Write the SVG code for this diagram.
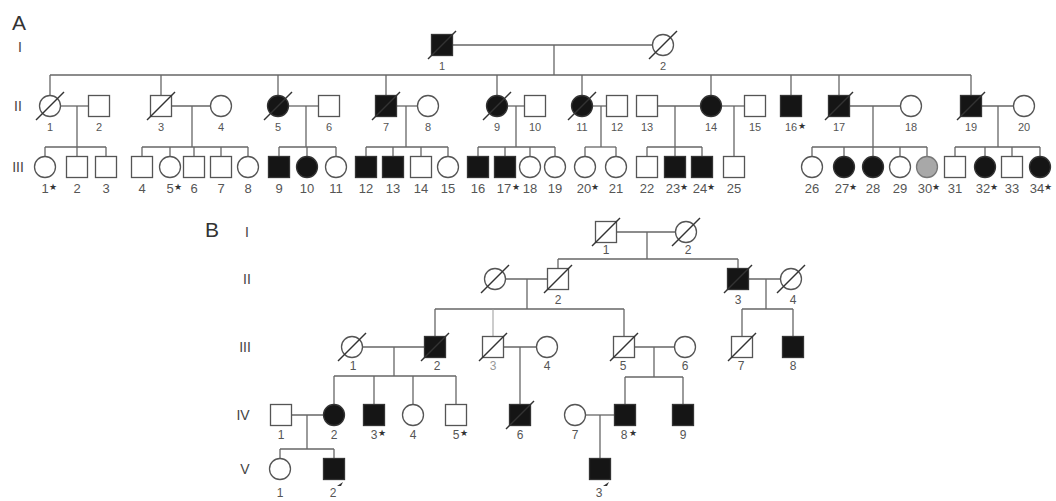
<svg xmlns="http://www.w3.org/2000/svg" width="1056" height="501" viewBox="0 0 1056 501">
<style>
.o{fill:#fff;stroke:#555;stroke-width:1.3}
.f{fill:#151515;stroke:#333;stroke-width:1.3}
.g{fill:#a8a8a8;stroke:#777;stroke-width:1.3}
.d{stroke:#333;stroke-width:1.4}
.ln line{stroke:#666;stroke-width:1.3}
text{font-family:"Liberation Sans",Arial,sans-serif;fill:#555}
.l2{font-size:11px;text-anchor:middle}
.l3{font-size:13px;text-anchor:middle}
.lb{font-size:12px;text-anchor:middle}
.st{font-size:9px;fill:#333}
.gen{font-size:14px;fill:#444;text-anchor:middle}
.pan{font-size:21px;fill:#333}
</style>
<rect width="1056" height="501" fill="#fff"/>
<text class="pan" x="12" y="30">A</text>
<text class="gen" x="20" y="52">I</text>
<text class="gen" x="18" y="111">II</text>
<text class="gen" x="18" y="172">III</text>
<text class="pan" x="205" y="237">B</text>
<text class="gen" x="247" y="237">I</text>
<text class="gen" x="247" y="284">II</text>
<text class="gen" x="245" y="352">III</text>
<text class="gen" x="243" y="420">IV</text>
<text class="gen" x="245" y="474">V</text>

<g id="connectors" class="ln">
<!-- A gen I -->
<line x1="452" y1="45" x2="652.5" y2="45"/>
<line x1="554" y1="45" x2="554" y2="75"/>
<line x1="50" y1="75" x2="971" y2="75"/>
<line x1="50" y1="75" x2="50" y2="95.5"/>
<line x1="161" y1="75" x2="161" y2="95.5"/>
<line x1="278" y1="75" x2="278" y2="95.5"/>
<line x1="386" y1="75" x2="386" y2="95.5"/>
<line x1="497" y1="75" x2="497" y2="95.5"/>
<line x1="582" y1="75" x2="582" y2="95.5"/>
<line x1="711" y1="75" x2="711" y2="95.5"/>
<line x1="791" y1="75" x2="791" y2="95.5"/>
<line x1="839" y1="75" x2="839" y2="95.5"/>
<line x1="971" y1="75" x2="971" y2="95.5"/>
<!-- A gen II couples -->
<line x1="60.5" y1="106" x2="88.5" y2="106"/>
<line x1="171.5" y1="106" x2="210.5" y2="106"/>
<line x1="288.5" y1="106" x2="318.5" y2="106"/>
<line x1="396.5" y1="106" x2="417.5" y2="106"/>
<line x1="507.5" y1="106" x2="524.5" y2="106"/>
<line x1="592.5" y1="106" x2="606.5" y2="106"/>
<line x1="657.5" y1="106" x2="700.5" y2="106"/>
<line x1="721.5" y1="106" x2="744.5" y2="106"/>
<line x1="849.5" y1="106" x2="900.5" y2="106"/>
<line x1="981.5" y1="106" x2="1013.5" y2="106"/>
<!-- A descents -->
<line x1="77" y1="106" x2="77" y2="156.5"/>
<line x1="192" y1="106" x2="192" y2="147"/>
<line x1="306" y1="106" x2="306" y2="147"/>
<line x1="406" y1="106" x2="406" y2="147"/>
<line x1="516" y1="106" x2="516" y2="147"/>
<line x1="601" y1="106" x2="601" y2="147"/>
<line x1="675" y1="106" x2="675" y2="156.5"/>
<line x1="734" y1="106" x2="734" y2="156.5"/>
<line x1="873" y1="106" x2="873" y2="156.5"/>
<line x1="998" y1="106" x2="998" y2="147"/>
<!-- A sibships gen III -->
<line x1="45" y1="147" x2="106" y2="147"/>
<line x1="142" y1="147" x2="248" y2="147"/>
<line x1="279" y1="147" x2="336" y2="147"/>
<line x1="366" y1="147" x2="448" y2="147"/>
<line x1="478" y1="147" x2="555" y2="147"/>
<line x1="585" y1="147" x2="616" y2="147"/>
<line x1="647" y1="147" x2="702" y2="147"/>
<line x1="812" y1="147" x2="927" y2="147"/>
<line x1="955" y1="147" x2="1040" y2="147"/>
<!-- A child verticals -->
<line x1="45" y1="147" x2="45" y2="156.5"/>
<line x1="106" y1="147" x2="106" y2="156.5"/>
<line x1="142" y1="147" x2="142" y2="156.5"/>
<line x1="170" y1="147" x2="170" y2="156.5"/>
<line x1="194" y1="147" x2="194" y2="156.5"/>
<line x1="221" y1="147" x2="221" y2="156.5"/>
<line x1="248" y1="147" x2="248" y2="156.5"/>
<line x1="279" y1="147" x2="279" y2="156.5"/>
<line x1="307" y1="147" x2="307" y2="156.5"/>
<line x1="336" y1="147" x2="336" y2="156.5"/>
<line x1="366" y1="147" x2="366" y2="156.5"/>
<line x1="393" y1="147" x2="393" y2="156.5"/>
<line x1="421" y1="147" x2="421" y2="156.5"/>
<line x1="448" y1="147" x2="448" y2="156.5"/>
<line x1="478" y1="147" x2="478" y2="156.5"/>
<line x1="505" y1="147" x2="505" y2="156.5"/>
<line x1="530" y1="147" x2="530" y2="156.5"/>
<line x1="555" y1="147" x2="555" y2="156.5"/>
<line x1="585" y1="147" x2="585" y2="156.5"/>
<line x1="616" y1="147" x2="616" y2="156.5"/>
<line x1="647" y1="147" x2="647" y2="156.5"/>
<line x1="702" y1="147" x2="702" y2="156.5"/>
<line x1="812" y1="147" x2="812" y2="156.5"/>
<line x1="844" y1="147" x2="844" y2="156.5"/>
<line x1="900" y1="147" x2="900" y2="156.5"/>
<line x1="927" y1="147" x2="927" y2="156.5"/>
<line x1="955" y1="147" x2="955" y2="156.5"/>
<line x1="985" y1="147" x2="985" y2="156.5"/>
<line x1="1012" y1="147" x2="1012" y2="156.5"/>
<line x1="1040" y1="147" x2="1040" y2="156.5"/>
<!-- B gen I -->
<line x1="616.5" y1="232" x2="675.5" y2="232"/>
<line x1="647" y1="232" x2="647" y2="259"/>
<line x1="558" y1="259" x2="738" y2="259"/>
<line x1="558" y1="259" x2="558" y2="268.5"/>
<line x1="738" y1="259" x2="738" y2="268.5"/>
<!-- B gen II -->
<line x1="505.5" y1="279" x2="547.5" y2="279"/>
<line x1="527" y1="279" x2="527" y2="309"/>
<line x1="748.5" y1="279" x2="780.5" y2="279"/>
<line x1="766" y1="279" x2="766" y2="309"/>
<line x1="435" y1="309" x2="624" y2="309"/>
<line x1="435" y1="309" x2="435" y2="336.5"/>
<line x1="493" y1="309" x2="493" y2="336.5" style="stroke:#999;stroke-width:1"/>
<line x1="624" y1="309" x2="624" y2="336.5"/>
<line x1="742" y1="309" x2="793" y2="309"/>
<line x1="742" y1="309" x2="742" y2="336.5"/>
<line x1="793" y1="309" x2="793" y2="336.5"/>
<!-- B gen III -->
<line x1="362.5" y1="347" x2="424.5" y2="347"/>
<line x1="394" y1="347" x2="394" y2="376"/>
<line x1="503.5" y1="347" x2="536.5" y2="347"/>
<line x1="520" y1="347" x2="520" y2="404.5"/>
<line x1="634.5" y1="347" x2="674.5" y2="347"/>
<line x1="654" y1="347" x2="654" y2="377"/>
<line x1="334" y1="376" x2="456" y2="376"/>
<line x1="334" y1="376" x2="334" y2="404.5"/>
<line x1="374" y1="376" x2="374" y2="404.5"/>
<line x1="413" y1="376" x2="413" y2="404.5"/>
<line x1="456" y1="376" x2="456" y2="404.5"/>
<line x1="625" y1="377" x2="683" y2="377"/>
<line x1="625" y1="377" x2="625" y2="404.5"/>
<line x1="683" y1="377" x2="683" y2="404.5"/>
<!-- B gen IV -->
<line x1="291.5" y1="415" x2="323.5" y2="415"/>
<line x1="307" y1="415" x2="307" y2="449"/>
<line x1="280" y1="449" x2="334" y2="449"/>
<line x1="280" y1="449" x2="280" y2="458.5"/>
<line x1="334" y1="449" x2="334" y2="458.5"/>
<line x1="585.5" y1="415" x2="614.5" y2="415"/>
<line x1="600" y1="415" x2="600" y2="458.5"/>
</g>

<!-- Panel A generation I -->
<g id="A-I-1"><rect class="f" x="431.5" y="34.5" width="21" height="21"/><line class="d" x1="428" y1="59" x2="456" y2="31"/><text class="l2" x="442" y="70">1</text></g>
<g id="A-I-2"><circle class="o" cx="663" cy="45" r="10.5"/><line class="d" x1="649" y1="59" x2="677" y2="31"/><text class="l2" x="663" y="70">2</text></g>

<!-- Panel A generation II -->
<g id="A-II-1"><circle class="o" cx="50" cy="106" r="10.5"/><line class="d" x1="36" y1="120" x2="64" y2="92"/><text class="l2" x="50" y="131">1</text></g>
<g id="A-II-2"><rect class="o" x="88.5" y="95.5" width="21" height="21"/><text class="l2" x="99" y="131">2</text></g>
<g id="A-II-3"><rect class="o" x="150.5" y="95.5" width="21" height="21"/><line class="d" x1="147" y1="120" x2="175" y2="92"/><text class="l2" x="161" y="131">3</text></g>
<g id="A-II-4"><circle class="o" cx="221" cy="106" r="10.5"/><text class="l2" x="221" y="131">4</text></g>
<g id="A-II-5"><circle class="f" cx="278" cy="106" r="10.5"/><line class="d" x1="264" y1="120" x2="292" y2="92"/><text class="l2" x="278" y="131">5</text></g>
<g id="A-II-6"><rect class="o" x="318.5" y="95.5" width="21" height="21"/><text class="l2" x="329" y="131">6</text></g>
<g id="A-II-7"><rect class="f" x="375.5" y="95.5" width="21" height="21"/><line class="d" x1="372" y1="120" x2="400" y2="92"/><text class="l2" x="386" y="131">7</text></g>
<g id="A-II-8"><circle class="o" cx="428" cy="106" r="10.5"/><text class="l2" x="428" y="131">8</text></g>
<g id="A-II-9"><circle class="f" cx="497" cy="106" r="10.5"/><line class="d" x1="483" y1="120" x2="511" y2="92"/><text class="l2" x="497" y="131">9</text></g>
<g id="A-II-10"><rect class="o" x="524.5" y="95.5" width="21" height="21"/><text class="l2" x="535" y="131">10</text></g>
<g id="A-II-11"><circle class="f" cx="582" cy="106" r="10.5"/><line class="d" x1="568" y1="120" x2="596" y2="92"/><text class="l2" x="582" y="131">11</text></g>
<g id="A-II-12"><rect class="o" x="606.5" y="95.5" width="21" height="21"/><text class="l2" x="617" y="131">12</text></g>
<g id="A-II-13"><rect class="o" x="636.5" y="95.5" width="21" height="21"/><text class="l2" x="647" y="131">13</text></g>
<g id="A-II-14"><circle class="f" cx="711" cy="106" r="10.5"/><text class="l2" x="711" y="131">14</text></g>
<g id="A-II-15"><rect class="o" x="744.5" y="95.5" width="21" height="21"/><text class="l2" x="755" y="131">15</text></g>
<g id="A-II-16"><rect class="f" x="780.5" y="95.5" width="21" height="21"/><text class="l2" x="791" y="131">16</text><text class="st" x="798" y="129">★</text></g>
<g id="A-II-17"><rect class="f" x="828.5" y="95.5" width="21" height="21"/><line class="d" x1="825" y1="120" x2="853" y2="92"/><text class="l2" x="839" y="131">17</text></g>
<g id="A-II-18"><circle class="o" cx="911" cy="106" r="10.5"/><text class="l2" x="911" y="131">18</text></g>
<g id="A-II-19"><rect class="f" x="960.5" y="95.5" width="21" height="21"/><line class="d" x1="957" y1="120" x2="985" y2="92"/><text class="l2" x="971" y="131">19</text></g>
<g id="A-II-20"><circle class="o" cx="1024" cy="106" r="10.5"/><text class="l2" x="1024" y="131">20</text></g>

<!-- Panel A generation III -->
<g id="A-III-1"><circle class="o" cx="45" cy="167" r="10.5"/><text class="l3" x="45" y="193">1</text><text class="st" x="49" y="190">★</text></g>
<g id="A-III-2"><rect class="o" x="66.5" y="156.5" width="21" height="21"/><text class="l3" x="77" y="193">2</text></g>
<g id="A-III-3"><rect class="o" x="95.5" y="156.5" width="21" height="21"/><text class="l3" x="106" y="193">3</text></g>
<g id="A-III-4"><rect class="o" x="131.5" y="156.5" width="21" height="21"/><text class="l3" x="142" y="193">4</text></g>
<g id="A-III-5"><circle class="o" cx="170" cy="167" r="10.5"/><text class="l3" x="170" y="193">5</text><text class="st" x="174" y="190">★</text></g>
<g id="A-III-6"><rect class="o" x="183.5" y="156.5" width="21" height="21"/><text class="l3" x="194" y="193">6</text></g>
<g id="A-III-7"><rect class="o" x="210.5" y="156.5" width="21" height="21"/><text class="l3" x="221" y="193">7</text></g>
<g id="A-III-8"><circle class="o" cx="248" cy="167" r="10.5"/><text class="l3" x="248" y="193">8</text></g>
<g id="A-III-9"><rect class="f" x="268.5" y="156.5" width="21" height="21"/><text class="l3" x="279" y="193">9</text></g>
<g id="A-III-10"><circle class="f" cx="307" cy="167" r="10.5"/><text class="l3" x="307" y="193">10</text></g>
<g id="A-III-11"><circle class="o" cx="336" cy="167" r="10.5"/><text class="l3" x="336" y="193">11</text></g>
<g id="A-III-12"><rect class="f" x="355.5" y="156.5" width="21" height="21"/><text class="l3" x="366" y="193">12</text></g>
<g id="A-III-13"><rect class="f" x="382.5" y="156.5" width="21" height="21"/><text class="l3" x="393" y="193">13</text></g>
<g id="A-III-14"><rect class="o" x="410.5" y="156.5" width="21" height="21"/><text class="l3" x="421" y="193">14</text></g>
<g id="A-III-15"><circle class="o" cx="448" cy="167" r="10.5"/><text class="l3" x="448" y="193">15</text></g>
<g id="A-III-16"><rect class="f" x="467.5" y="156.5" width="21" height="21"/><text class="l3" x="478" y="193">16</text></g>
<g id="A-III-17"><rect class="f" x="494.5" y="156.5" width="21" height="21"/><text class="l3" x="504" y="193">17</text><text class="st" x="512" y="190">★</text></g>
<g id="A-III-18"><circle class="o" cx="530" cy="167" r="10.5"/><text class="l3" x="530" y="193">18</text></g>
<g id="A-III-19"><circle class="o" cx="555" cy="167" r="10.5"/><text class="l3" x="555" y="193">19</text></g>
<g id="A-III-20"><circle class="o" cx="585" cy="167" r="10.5"/><text class="l3" x="584" y="193">20</text><text class="st" x="591" y="190">★</text></g>
<g id="A-III-21"><circle class="o" cx="616" cy="167" r="10.5"/><text class="l3" x="616" y="193">21</text></g>
<g id="A-III-22"><rect class="o" x="636.5" y="156.5" width="21" height="21"/><text class="l3" x="647" y="193">22</text></g>
<g id="A-III-23"><rect class="f" x="664.5" y="156.5" width="21" height="21"/><text class="l3" x="673" y="193">23</text><text class="st" x="680" y="190">★</text></g>
<g id="A-III-24"><rect class="f" x="691.5" y="156.5" width="21" height="21"/><text class="l3" x="700" y="193">24</text><text class="st" x="707" y="190">★</text></g>
<g id="A-III-25"><rect class="o" x="723.5" y="156.5" width="21" height="21"/><text class="l3" x="734" y="193">25</text></g>
<g id="A-III-26"><circle class="o" cx="812" cy="167" r="10.5"/><text class="l3" x="812" y="193">26</text></g>
<g id="A-III-27"><circle class="f" cx="844" cy="167" r="10.5"/><text class="l3" x="842" y="193">27</text><text class="st" x="849" y="190">★</text></g>
<g id="A-III-28"><circle class="f" cx="873" cy="167" r="10.5"/><text class="l3" x="873" y="193">28</text></g>
<g id="A-III-29"><circle class="o" cx="900" cy="167" r="10.5"/><text class="l3" x="900" y="193">29</text></g>
<g id="A-III-30"><circle class="g" cx="927" cy="167" r="10.5"/><text class="l3" x="925" y="193">30</text><text class="st" x="932" y="190">★</text></g>
<g id="A-III-31"><rect class="o" x="944.5" y="156.5" width="21" height="21"/><text class="l3" x="955" y="193">31</text></g>
<g id="A-III-32"><circle class="f" cx="985" cy="167" r="10.5"/><text class="l3" x="983" y="193">32</text><text class="st" x="990" y="190">★</text></g>
<g id="A-III-33"><rect class="o" x="1001.5" y="156.5" width="21" height="21"/><text class="l3" x="1012" y="193">33</text></g>
<g id="A-III-34"><circle class="f" cx="1040" cy="167" r="10.5"/><text class="l3" x="1037" y="193">34</text><text class="st" x="1044" y="190">★</text></g>

<!-- Panel B generation I -->
<g id="B-I-1"><rect class="o" x="595.5" y="221.5" width="21" height="21"/><line class="d" x1="592" y1="246" x2="620" y2="218"/><text class="lb" x="606" y="254">1</text></g>
<g id="B-I-2"><circle class="o" cx="686" cy="232" r="10.5"/><line class="d" x1="672" y1="246" x2="700" y2="218"/><text class="lb" x="688" y="254">2</text></g>

<!-- Panel B generation II -->
<g id="B-II-1"><circle class="o" cx="495" cy="279" r="10.5"/><line class="d" x1="481" y1="293" x2="509" y2="265"/></g>
<g id="B-II-2"><rect class="o" x="547.5" y="268.5" width="21" height="21"/><line class="d" x1="544" y1="293" x2="572" y2="265"/><text class="lb" x="558" y="304">2</text></g>
<g id="B-II-3"><rect class="f" x="727.5" y="268.5" width="21" height="21"/><line class="d" x1="724" y1="293" x2="752" y2="265"/><text class="lb" x="738" y="304">3</text></g>
<g id="B-II-4"><circle class="o" cx="791" cy="279" r="10.5"/><line class="d" x1="777" y1="293" x2="805" y2="265"/><text class="lb" x="793" y="304">4</text></g>

<!-- Panel B generation III -->
<g id="B-III-1"><circle class="o" cx="352" cy="347" r="10.5"/><line class="d" x1="338" y1="361" x2="366" y2="333"/><text class="lb" x="353" y="370">1</text></g>
<g id="B-III-2"><rect class="f" x="424.5" y="336.5" width="21" height="21"/><line class="d" x1="421" y1="361" x2="449" y2="333"/><text class="lb" x="437" y="370">2</text></g>
<g id="B-III-3"><rect class="o" x="482.5" y="336.5" width="21" height="21"/><line class="d" x1="479" y1="361" x2="507" y2="333"/><text class="lb" x="493" y="370" style="fill:#999">3</text></g>
<g id="B-III-4"><circle class="o" cx="547" cy="347" r="10.5"/><text class="lb" x="547" y="370">4</text></g>
<g id="B-III-5"><rect class="o" x="613.5" y="336.5" width="21" height="21"/><line class="d" x1="610" y1="361" x2="638" y2="333"/><text class="lb" x="623" y="370">5</text></g>
<g id="B-III-6"><circle class="o" cx="685" cy="347" r="10.5"/><text class="lb" x="685" y="370">6</text></g>
<g id="B-III-7"><rect class="o" x="731.5" y="336.5" width="21" height="21"/><line class="d" x1="728" y1="361" x2="756" y2="333"/><text class="lb" x="741" y="370">7</text></g>
<g id="B-III-8"><rect class="f" x="782.5" y="336.5" width="21" height="21"/><text class="lb" x="793" y="370">8</text></g>

<!-- Panel B generation IV -->
<g id="B-IV-1"><rect class="o" x="270.5" y="404.5" width="21" height="21"/><text class="lb" x="281" y="439">1</text></g>
<g id="B-IV-2"><circle class="f" cx="334" cy="415" r="10.5"/><text class="lb" x="334" y="439">2</text></g>
<g id="B-IV-3"><rect class="f" x="363.5" y="404.5" width="21" height="21"/><text class="lb" x="374" y="439">3</text><text class="st" x="378" y="436">★</text></g>
<g id="B-IV-4"><circle class="o" cx="413" cy="415" r="10.5"/><text class="lb" x="413" y="439">4</text></g>
<g id="B-IV-5"><rect class="o" x="445.5" y="404.5" width="21" height="21"/><text class="lb" x="456" y="439">5</text><text class="st" x="460" y="436">★</text></g>
<g id="B-IV-6"><rect class="f" x="509.5" y="404.5" width="21" height="21"/><line class="d" x1="506" y1="429" x2="534" y2="401"/><text class="lb" x="520" y="439">6</text></g>
<g id="B-IV-7"><circle class="o" cx="575" cy="415" r="10.5"/><text class="lb" x="575" y="439">7</text></g>
<g id="B-IV-8"><rect class="f" x="614.5" y="404.5" width="21" height="21"/><text class="lb" x="624" y="439">8</text><text class="st" x="629" y="436">★</text></g>
<g id="B-IV-9"><rect class="f" x="672.5" y="404.5" width="21" height="21"/><text class="lb" x="683" y="439">9</text></g>

<!-- Panel B generation V -->
<g id="B-V-1"><circle class="o" cx="280" cy="469" r="10.5"/><text class="lb" x="280" y="497">1</text></g>
<g id="B-V-2"><rect class="f" x="323.5" y="458.5" width="21" height="21"/><text class="lb" x="333" y="497">2</text><path d="M337,486 L343,482 L341,486 Z" fill="#333"/></g>
<g id="B-V-3"><rect class="f" x="589.5" y="458.5" width="21" height="21"/><text class="lb" x="599" y="497">3</text><path d="M603,486 L609,482 L607,486 Z" fill="#333"/></g>
</svg>
